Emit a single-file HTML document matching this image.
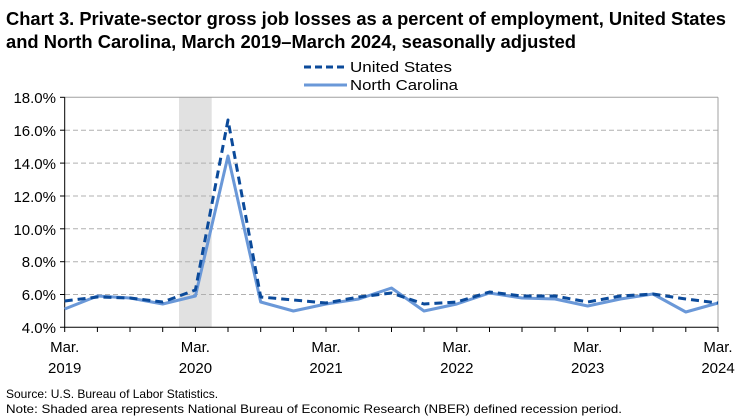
<!DOCTYPE html>
<html><head><meta charset="utf-8"><style>body{margin:0;background:#fff}svg{display:block}text{font-family:"Liberation Sans",Arial,sans-serif}</style></head>
<body>
<svg width="751" height="420" viewBox="0 0 751 420">
<text x="6" y="25" font-size="18" font-weight="bold" textLength="720" lengthAdjust="spacingAndGlyphs">Chart 3. Private-sector gross job losses as a percent of employment, United States</text>
<text x="6" y="48" font-size="18" font-weight="bold" textLength="570" lengthAdjust="spacingAndGlyphs">and North Carolina, March 2019–March 2024, seasonally adjusted</text>
<line x1="304" y1="67" x2="347" y2="67" stroke="#0b4a9a" stroke-width="3" stroke-dasharray="7,4"/>
<text x="350" y="72" font-size="15" textLength="102" lengthAdjust="spacingAndGlyphs">United States</text>
<line x1="304" y1="85" x2="347" y2="85" stroke="#6a98d8" stroke-width="3"/>
<text x="350" y="90" font-size="15" textLength="108" lengthAdjust="spacingAndGlyphs">North Carolina</text>
<rect x="179" y="97.3" width="32.7" height="230" fill="#e1e1e1"/>
<g stroke="#b0b0b0" stroke-dasharray="5,3" stroke-width="1">
<line x1="65" x2="718" y1="130.2" y2="130.2"/><line x1="65" x2="718" y1="163.1" y2="163.1"/><line x1="65" x2="718" y1="196" y2="196"/><line x1="65" x2="718" y1="228.8" y2="228.8"/><line x1="65" x2="718" y1="261.7" y2="261.7"/><line x1="65" x2="718" y1="294.5" y2="294.5"/>
</g>
<line x1="64.7" x2="718" y1="97.3" y2="97.3" stroke="#a0a0a0"/>
<line x1="718" x2="718" y1="97.3" y2="327.3" stroke="#a0a0a0"/>
<line x1="64.7" x2="64.7" y1="97.3" y2="327.3" stroke="#000"/>
<line x1="60" x2="718" y1="327.3" y2="327.3" stroke="#000"/>
<g stroke="#000">
<line x1="60" x2="64.7" y1="97.3" y2="97.3"/><line x1="60" x2="64.7" y1="130.2" y2="130.2"/><line x1="60" x2="64.7" y1="163.1" y2="163.1"/><line x1="60" x2="64.7" y1="196" y2="196"/><line x1="60" x2="64.7" y1="228.8" y2="228.8"/><line x1="60" x2="64.7" y1="261.7" y2="261.7"/><line x1="60" x2="64.7" y1="294.5" y2="294.5"/>
<path d="M64.7 327v5M97.4 327v5M130 327v5M162.7 327v5M195.4 327v5M228 327v5M260.7 327v5M293.4 327v5M326 327v5M358.8 327v5M391.5 327v5M424 327v5M456.8 327v5M489.5 327v5M522 327v5M555 327v5M587.7 327v5M620.4 327v5M653 327v5M685.8 327v5M718 327v5"/>
</g>
<g font-size="15" text-anchor="end">
<text x="56" y="103">18.0%</text><text x="56" y="136">16.0%</text><text x="56" y="169">14.0%</text><text x="56" y="202">12.0%</text><text x="56" y="235">10.0%</text><text x="56" y="267">8.0%</text><text x="56" y="300">6.0%</text><text x="56" y="333">4.0%</text>
</g>
<g font-size="15" text-anchor="middle">
<text x="64.7" y="352">Mar.</text><text x="64.7" y="373">2019</text>
<text x="195.4" y="352">Mar.</text><text x="195.4" y="373">2020</text>
<text x="326" y="352">Mar.</text><text x="326" y="373">2021</text>
<text x="456.8" y="352">Mar.</text><text x="456.8" y="373">2022</text>
<text x="587.7" y="352">Mar.</text><text x="587.7" y="373">2023</text>
<text x="718" y="352">Mar.</text><text x="718" y="373">2024</text>
</g>
<polyline fill="none" stroke="#6a98d8" stroke-width="3" stroke-linejoin="round" points="64.7,309 97.4,296 130,298 162.7,304 195.4,296 228,156 260.7,302 293.4,311 326,304 358.8,299 391.5,288 424,311 456.8,304 489.5,293 522,298 555,299 587.7,306 620.4,299 653,294 685.8,312 718,303"/>
<polyline fill="none" stroke="#0b4a9a" stroke-width="3" stroke-dasharray="8,5" stroke-linejoin="round" points="64.7,301 97.4,297 130,298 162.7,302 195.4,290 228,120 260.7,297 293.4,300 326,303 358.8,297 391.5,293 424,304 456.8,302 489.5,292 522,296 555,296 587.7,302 620.4,296 653,294 685.8,299 718,303"/>
<text x="6" y="398" font-size="12">Source: U.S. Bureau of Labor Statistics.</text>
<text x="6" y="413" font-size="12" textLength="616" lengthAdjust="spacingAndGlyphs">Note: Shaded area represents National Bureau of Economic Research (NBER) defined recession period.</text>
</svg>
</body></html>
